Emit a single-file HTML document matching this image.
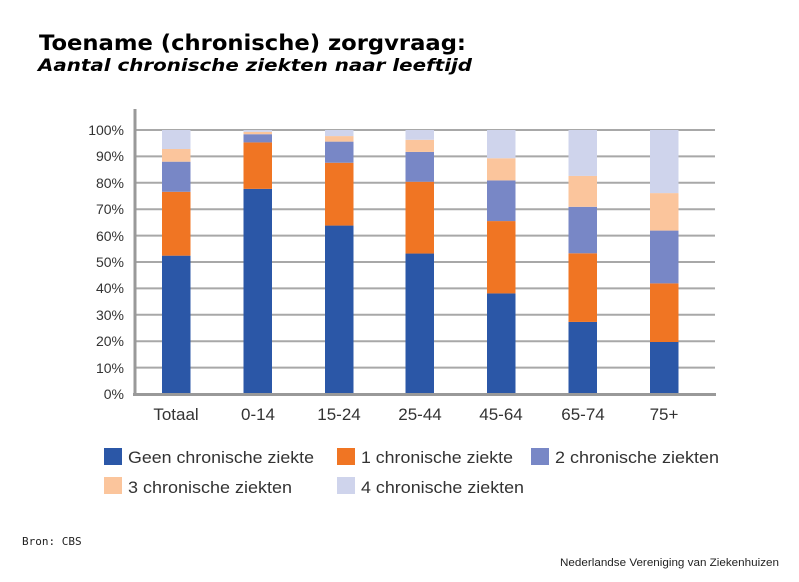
<!DOCTYPE html>
<html><head><meta charset="utf-8"><style>
html,body{margin:0;padding:0;background:#fff;}
svg{display:block;}
</style></head><body>
<svg width="799" height="582" viewBox="0 0 799 582" xmlns="http://www.w3.org/2000/svg">
<rect width="799" height="582" fill="#fff"/>
<text x="39" y="50" font-family="DejaVu Sans, sans-serif" font-weight="bold" font-size="21" textLength="427" lengthAdjust="spacingAndGlyphs" fill="#000">Toename (chronische) zorgvraag:</text>
<text x="38" y="71" font-family="DejaVu Sans, sans-serif" font-weight="bold" font-style="italic" font-size="17" textLength="434" lengthAdjust="spacingAndGlyphs" fill="#000">Aantal chronische ziekten naar leeftijd</text>

<g stroke="#a8a8a8" stroke-width="2">
<line x1="135" y1="130" x2="715" y2="130"/>
<line x1="135" y1="156.4" x2="715" y2="156.4"/>
<line x1="135" y1="182.8" x2="715" y2="182.8"/>
<line x1="135" y1="209.2" x2="715" y2="209.2"/>
<line x1="135" y1="235.6" x2="715" y2="235.6"/>
<line x1="135" y1="262" x2="715" y2="262"/>
<line x1="135" y1="288.4" x2="715" y2="288.4"/>
<line x1="135" y1="314.8" x2="715" y2="314.8"/>
<line x1="135" y1="341.2" x2="715" y2="341.2"/>
<line x1="135" y1="367.6" x2="715" y2="367.6"/>
</g>

<!-- Totaal -->
<rect x="162" y="255.66" width="28.5" height="138.34" fill="#2b57a7"/>
<rect x="162" y="191.78" width="28.5" height="63.88" fill="#f07523"/>
<rect x="162" y="161.68" width="28.5" height="30.1" fill="#7887c6"/>
<rect x="162" y="149.01" width="28.5" height="12.67" fill="#fbc59c"/>
<rect x="162" y="130" width="28.5" height="19.01" fill="#cfd4ec"/>
<!-- 0-14 -->
<rect x="243.5" y="188.87" width="28.5" height="205.13" fill="#2b57a7"/>
<rect x="243.5" y="142.41" width="28.5" height="46.46" fill="#f07523"/>
<rect x="243.5" y="134.22" width="28.5" height="8.19" fill="#7887c6"/>
<rect x="243.5" y="131.85" width="28.5" height="2.37" fill="#fbc59c"/>
<rect x="243.5" y="130" width="28.5" height="1.85" fill="#cfd4ec"/>
<!-- 15-24 -->
<rect x="325" y="225.57" width="28.5" height="168.43" fill="#2b57a7"/>
<rect x="325" y="162.74" width="28.5" height="62.83" fill="#f07523"/>
<rect x="325" y="141.62" width="28.5" height="21.12" fill="#7887c6"/>
<rect x="325" y="136.07" width="28.5" height="5.55" fill="#fbc59c"/>
<rect x="325" y="130" width="28.5" height="6.07" fill="#cfd4ec"/>
<!-- 25-44 -->
<rect x="405.5" y="253.55" width="28.5" height="140.45" fill="#2b57a7"/>
<rect x="405.5" y="181.74" width="28.5" height="71.81" fill="#f07523"/>
<rect x="405.5" y="151.91" width="28.5" height="29.83" fill="#7887c6"/>
<rect x="405.5" y="139.77" width="28.5" height="12.14" fill="#fbc59c"/>
<rect x="405.5" y="130" width="28.5" height="9.77" fill="#cfd4ec"/>
<!-- 45-64 -->
<rect x="487" y="293.42" width="28.5" height="100.58" fill="#2b57a7"/>
<rect x="487" y="221.08" width="28.5" height="72.34" fill="#f07523"/>
<rect x="487" y="180.42" width="28.5" height="40.66" fill="#7887c6"/>
<rect x="487" y="158.25" width="28.5" height="22.17" fill="#fbc59c"/>
<rect x="487" y="130" width="28.5" height="28.25" fill="#cfd4ec"/>
<!-- 65-74 -->
<rect x="568.5" y="321.93" width="28.5" height="72.07" fill="#2b57a7"/>
<rect x="568.5" y="253.29" width="28.5" height="68.64" fill="#f07523"/>
<rect x="568.5" y="206.82" width="28.5" height="46.47" fill="#7887c6"/>
<rect x="568.5" y="175.94" width="28.5" height="30.88" fill="#fbc59c"/>
<rect x="568.5" y="130" width="28.5" height="45.94" fill="#cfd4ec"/>
<!-- 75+ -->
<rect x="650" y="342" width="28.5" height="52" fill="#2b57a7"/>
<rect x="650" y="283.38" width="28.5" height="58.62" fill="#f07523"/>
<rect x="650" y="230.58" width="28.5" height="52.8" fill="#7887c6"/>
<rect x="650" y="193.1" width="28.5" height="37.48" fill="#fbc59c"/>
<rect x="650" y="130" width="28.5" height="63.1" fill="#cfd4ec"/>

<line x1="135" y1="109" x2="135" y2="395" stroke="#999" stroke-width="3"/>
<line x1="133" y1="394.5" x2="716" y2="394.5" stroke="#999" stroke-width="3"/>

<g font-family="Liberation Sans, sans-serif" font-size="14" fill="#333" text-anchor="end">
<text x="124" y="135">100%</text>
<text x="124" y="161">90%</text>
<text x="124" y="188">80%</text>
<text x="124" y="214">70%</text>
<text x="124" y="241">60%</text>
<text x="124" y="267">50%</text>
<text x="124" y="293">40%</text>
<text x="124" y="320">30%</text>
<text x="124" y="346">20%</text>
<text x="124" y="373">10%</text>
<text x="124" y="399">0%</text>
</g>
<g font-family="Liberation Sans, sans-serif" font-size="17" fill="#333" text-anchor="middle">
<text x="176" y="420">Totaal</text>
<text x="258" y="420">0-14</text>
<text x="339" y="420">15-24</text>
<text x="420" y="420">25-44</text>
<text x="501" y="420">45-64</text>
<text x="583" y="420">65-74</text>
<text x="664" y="420">75+</text>
</g>

<g font-family="Liberation Sans, sans-serif" font-size="17" fill="#333">
<rect x="104" y="448" width="18" height="17" fill="#2b57a7"/>
<text x="128" y="463" textLength="186" lengthAdjust="spacingAndGlyphs">Geen chronische ziekte</text>
<rect x="337" y="448" width="18" height="17" fill="#f07523"/>
<text x="361" y="463" textLength="152" lengthAdjust="spacingAndGlyphs">1 chronische ziekte</text>
<rect x="531" y="448" width="18" height="17" fill="#7887c6"/>
<text x="555" y="463" textLength="164" lengthAdjust="spacingAndGlyphs">2 chronische ziekten</text>
<rect x="104" y="477" width="18" height="17" fill="#fbc59c"/>
<text x="128" y="493" textLength="164" lengthAdjust="spacingAndGlyphs">3 chronische ziekten</text>
<rect x="337" y="477" width="18" height="17" fill="#cfd4ec"/>
<text x="361" y="493" textLength="163" lengthAdjust="spacingAndGlyphs">4 chronische ziekten</text>
</g>

<text x="22" y="545" font-family="DejaVu Sans Mono, monospace" font-size="11" fill="#222">Bron: CBS</text>
<text x="560" y="566" font-family="Liberation Sans, sans-serif" font-size="11" fill="#222" textLength="219" lengthAdjust="spacingAndGlyphs">Nederlandse Vereniging van Ziekenhuizen</text>
</svg>
</body></html>
